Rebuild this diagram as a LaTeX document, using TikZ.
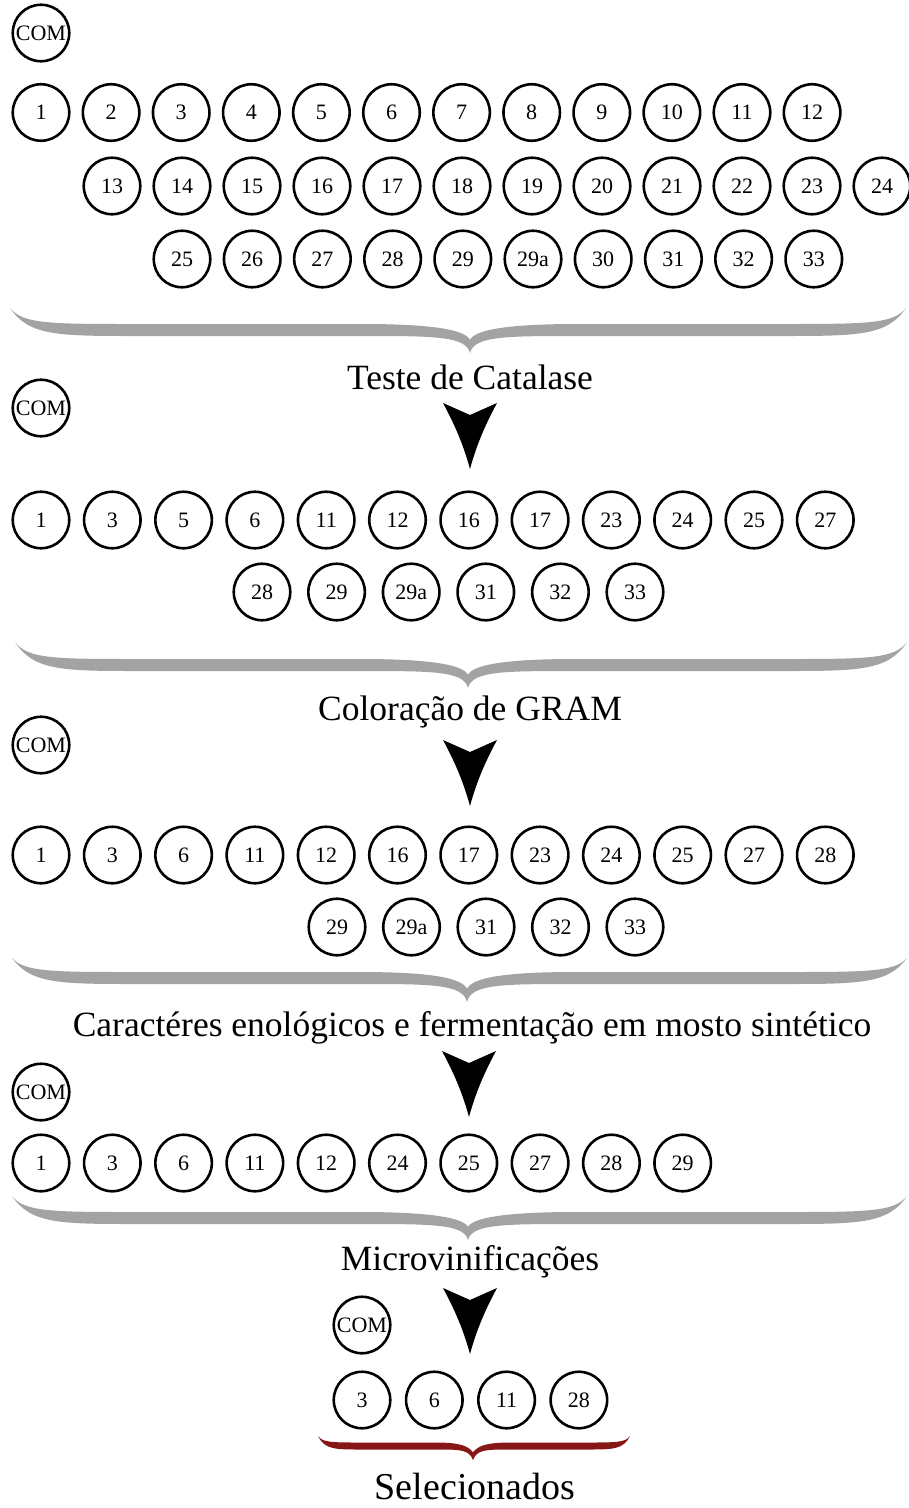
\documentclass[tikz,border=0pt]{standalone}
\usepackage{fontspec}
\setmainfont{Liberation Serif}
\usepackage{tikz}
\definecolor{bracegray}{RGB}{163,163,163}
\definecolor{selred}{RGB}{135,22,22}
\tikzset{
	isolate/.style={circle,draw=black,line width=2.6pt,minimum size=56.5pt,inner sep=0pt,font=\fontsize{22}{22}\selectfont},
	steptitle/.style={font=\fontsize{35.5}{36}\selectfont,inner sep=0pt},
}
% curly brace: left x, right x, end y, body y, tip x, tip y, half thickness, colour
\newcommand{\flowbrace}[8]{%
	\pgfmathsetmacro\bw{#2-#1}
	\pgfmathsetmacro\ba{0.014*\bw}
	\pgfmathsetmacro\bb{0.045*\bw}
	\pgfmathsetmacro\bc{0.14*\bw}
	\pgfmathsetmacro\bd{0.12*\bw}
	\pgfmathsetmacro\be{0.04*\bw}
	\fill[#8] (#1,#3)
		.. controls ({#1+\ba},{#4-#7}) and ({#1+\bb},{#4-#7}) .. ({#1+\bc},{#4-#7})
		-- ({#5-\bd},{#4-#7})
		.. controls ({#5-\be},{#4-#7}) and ({#5-5},{#4}) .. (#5,{#6-2.2*#7})
		.. controls ({#5+5},{#4}) and ({#5+\be},{#4-#7}) .. ({#5+\bd},{#4-#7})
		-- ({#2-\bc},{#4-#7})
		.. controls ({#2-\bb},{#4-#7}) and ({#2-\ba},{#4-#7}) .. (#2,#3)
		.. controls ({#2-1.5*\ba},{#4+#7}) and ({#2-1.2*\bb},{#4+#7}) .. ({#2-\bc},{#4+#7})
		-- ({#5+\bd},{#4+#7})
		.. controls ({#5+\be},{#4+#7}) and ({#5+4},{#4+#7}) .. (#5,#6)
		.. controls ({#5-4},{#4+#7}) and ({#5-\be},{#4+#7}) .. ({#5-\bd},{#4+#7})
		-- ({#1+\bc},{#4+#7})
		.. controls ({#1+1.2*\bb},{#4+#7}) and ({#1+1.5*\ba},{#4+#7}) .. (#1,#3) -- cycle;
}
% black arrow head pointing down: tip x, top y
\newcommand{\downhead}[2]{%
	\fill (#1-27,#2) -- (#1,#2+12) -- (#1+27,#2)
		.. controls (#1+14,#2+24) and (#1+6,#2+44) .. (#1,#2+66)
		.. controls (#1-6,#2+44) and (#1-14,#2+24) .. (#1-27,#2) -- cycle;
}

\begin{document}
\begin{tikzpicture}[x=1pt,y=-1pt]
	\useasboundingbox (0,0) rectangle (909,1508);

	% all isolates
	\node[isolate] (com1) at (41,33) {COM};
	\foreach \lab [count=\i] in {1,...,12}
		\node[isolate] (a\lab) at ({41+70.1*(\i-1)},112.5) {\lab};
	\foreach \lab [count=\i] in {13,...,24}
		\node[isolate] (a\lab) at ({112+70*(\i-1)},186) {\lab};
	\foreach \lab [count=\i] in {25,26,27,28,29,29a,30,31,32,33}
		\node[isolate] (a\lab) at ({182+70.2*(\i-1)},259) {\lab};
	\flowbrace{10}{906}{308}{330}{470}{353}{6}{bracegray}
	\node[steptitle] (t1) at (470,377) {Teste de Catalase};
	\downhead{470}{403}

	% catalase
	\node[isolate] (com2) at (41,408) {COM};
	\foreach \lab [count=\i] in {1,3,5,6,11,12,16,17,23,24,25,27}
		\node[isolate] (b\lab) at ({41+71.3*(\i-1)},520) {\lab};
	\foreach \lab [count=\i] in {28,29,29a,31,32,33}
		\node[isolate] (b\lab) at ({262+74.6*(\i-1)},592) {\lab};
	\flowbrace{15}{907}{642}{665}{468}{688}{6}{bracegray}
	\node[steptitle] (t2) at (470,712) {Coloração de GRAM};
	\downhead{470}{740}

	% gram
	\node[isolate] (com3) at (41,745) {COM};
	\foreach \lab [count=\i] in {1,3,6,11,12,16,17,23,24,25,27,28}
		\node[isolate] (c\lab) at ({41+71.3*(\i-1)},855) {\lab};
	\foreach \lab [count=\i] in {29,29a,31,32,33}
		\node[isolate] (c\lab) at ({337+74.5*(\i-1)},927) {\lab};
	\flowbrace{12}{907}{958}{978}{467}{1002}{6}{bracegray}
	\node[steptitle] (t3) at (472,1028) {Caractéres enológicos e fermentação em mosto sintético};
	\downhead{469}{1051}

	% fermentation
	\node[isolate] (com4) at (41,1092) {COM};
	\foreach \lab [count=\i] in {1,3,6,11,12,24,25,27,28,29}
		\node[isolate] (d\lab) at ({41+71.3*(\i-1)},1163) {\lab};
	\flowbrace{12}{907}{1196}{1218}{468}{1240}{6}{bracegray}
	\node[steptitle] (t4) at (470,1262) {Microvinificações};
	\downhead{470}{1288}

	% selected
	\node[isolate] (com5) at (362,1325) {COM};
	\foreach \lab [count=\i] in {3,6,11,28}
		\node[isolate] (e\lab) at ({362+72.3*(\i-1)},1400) {\lab};
	\flowbrace{318}{630}{1436}{1446}{473}{1460}{3.5}{selred}
	\node[steptitle,font=\fontsize{38}{38}\selectfont] (t5) at (475,1486) {Selecionados};
\end{tikzpicture}
\end{document}
